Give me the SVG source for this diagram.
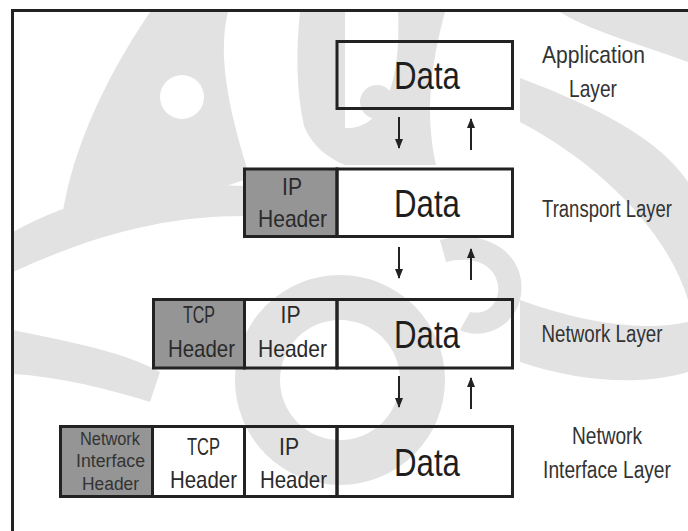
<svg xmlns="http://www.w3.org/2000/svg" width="688" height="531" viewBox="0 0 688 531">
<style>
.box{fill:none;stroke:#222;stroke-width:3}
.hdr{fill:#959595;stroke:#222;stroke-width:3}
.wm{fill:#e2e2e2;stroke:none}
.data{font-family:"Liberation Sans",Arial,sans-serif;font-size:39px;fill:#1e1e1e;text-anchor:middle}
.h{font-family:"Liberation Sans",Arial,sans-serif;font-size:24px;fill:#2a2a2a;text-anchor:middle}
.s{font-family:"Liberation Sans",Arial,sans-serif;font-size:18px;fill:#333;text-anchor:middle}
.lbl{font-family:"Liberation Sans",Arial,sans-serif;font-size:24px;fill:#333;text-anchor:middle}
.arr{stroke:#222;stroke-width:2;fill:none}
</style>
<defs>
<marker id="ah" viewBox="0 0 10 10" refX="9" refY="5" markerWidth="5" markerHeight="5" orient="auto" markerUnits="strokeWidth">
<path d="M0,1 L10,5 L0,9 z" fill="#222"/>
</marker>
</defs>
<rect x="0" y="0" width="688" height="531" fill="#ffffff"/>

<g id="watermark">
<path class="wm" d="M150,12 L228,12 C216,60 232,120 250,178 C200,196 120,212 60,236 C66,160 104,80 150,12 Z"/>
<circle cx="182" cy="97" r="22" fill="#ffffff"/>
<path class="wm" d="M300,12 L345,12 L345,165 C328,158 312,146 304,126 C296,90 296,50 300,12 Z"/>
<path class="wm" d="M398,12 L445,12 C432,60 424,110 436,165 L345,165 L345,128 C372,130 402,104 398,12 Z"/>
<circle class="wm" cx="377" cy="102" r="17"/>
<path class="wm" d="M560,12 L688,12 L688,62 C640,44 592,32 560,12 Z"/>
<path class="wm" d="M520,78 C600,108 660,140 688,182 L688,300 C668,232 600,164 520,122 Z"/>
<path class="wm" d="M13,232 C80,194 160,182 245,186 L245,216 C170,216 100,232 13,272 Z"/>
<path class="wm" d="M440,240 C490,226 530,258 520,300 C512,330 480,340 460,330 L470,312 C490,316 500,300 498,285 C494,262 470,256 446,262 Z"/>
<path class="wm" fill-rule="evenodd" d="M235,380 A105,105 0 0 0 445,380 A105,105 0 0 0 235,380 Z M280,380 A60,60 0 0 0 400,380 A60,60 0 0 0 280,380 Z"/>
<path class="wm" d="M13,330 C60,340 120,350 160,372 L150,402 C100,386 50,376 13,374 Z"/>
<path class="wm" d="M520,300 C580,322 640,332 688,322 L688,372 C640,386 580,382 520,362 Z"/>
</g>
<path d="M12.5,531 V10.5 H688" fill="none" stroke="#222" stroke-width="3"/>

<g id="application">
<rect class="box" x="337" y="41.5" width="175.5" height="67"/>
<text class="data" x="427" y="89" textLength="66" lengthAdjust="spacingAndGlyphs">Data</text>
<text class="lbl" transform="translate(593.5,63) scale(0.82,1)" textLength="125.6" lengthAdjust="spacingAndGlyphs">Application</text>
<text class="lbl" transform="translate(593,97) scale(0.82,1)" textLength="58.5" lengthAdjust="spacingAndGlyphs">Layer</text>
</g>

<g id="transport">
<rect class="hdr" x="244.5" y="169" width="92.5" height="67.5"/>
<rect class="box" x="337" y="169" width="175.5" height="67.5"/>
<text class="h" x="292" y="195" textLength="20" lengthAdjust="spacingAndGlyphs">IP</text>
<text class="h" x="292.5" y="227" textLength="69" lengthAdjust="spacingAndGlyphs">Header</text>
<text class="data" x="427" y="217" textLength="66" lengthAdjust="spacingAndGlyphs">Data</text>
<text class="lbl" transform="translate(607,217) scale(0.77,1)" textLength="168.8" lengthAdjust="spacingAndGlyphs">Transport Layer</text>
</g>

<g id="network">
<rect class="hdr" x="153.5" y="299.5" width="91" height="68.5"/>
<rect class="box" x="244.5" y="299.5" width="92.5" height="68.5"/>
<rect class="box" x="337" y="299.5" width="175.5" height="68.5"/>
<text class="h" x="199" y="323" textLength="32" lengthAdjust="spacingAndGlyphs">TCP</text>
<text class="h" x="201.5" y="357" textLength="67" lengthAdjust="spacingAndGlyphs">Header</text>
<text class="h" x="290.5" y="323" textLength="20" lengthAdjust="spacingAndGlyphs">IP</text>
<text class="h" x="292.5" y="357" textLength="69" lengthAdjust="spacingAndGlyphs">Header</text>
<text class="data" x="427" y="348" textLength="66" lengthAdjust="spacingAndGlyphs">Data</text>
<text class="lbl" transform="translate(602,342) scale(0.77,1)" textLength="157" lengthAdjust="spacingAndGlyphs">Network Layer</text>
</g>

<g id="network-interface">
<rect class="hdr" x="60.5" y="426.5" width="92" height="70"/>
<rect class="box" x="152.5" y="426.5" width="92" height="70"/>
<rect class="box" x="244.5" y="426.5" width="92.5" height="70"/>
<rect class="box" x="337" y="426.5" width="175.5" height="70"/>
<text class="s" x="110" y="445" textLength="60" lengthAdjust="spacingAndGlyphs">Network</text>
<text class="s" x="110.5" y="467" textLength="69" lengthAdjust="spacingAndGlyphs">Interface</text>
<text class="s" x="110.5" y="490" textLength="57" lengthAdjust="spacingAndGlyphs">Header</text>
<text class="h" x="203.5" y="455" textLength="33" lengthAdjust="spacingAndGlyphs">TCP</text>
<text class="h" x="203.5" y="488" textLength="67" lengthAdjust="spacingAndGlyphs">Header</text>
<text class="h" x="289" y="455" textLength="20" lengthAdjust="spacingAndGlyphs">IP</text>
<text class="h" x="293.5" y="488" textLength="67" lengthAdjust="spacingAndGlyphs">Header</text>
<text class="data" x="427" y="476" textLength="66" lengthAdjust="spacingAndGlyphs">Data</text>
<text class="lbl" transform="translate(607,444) scale(0.8,1)" textLength="87.5" lengthAdjust="spacingAndGlyphs">Network</text>
<text class="lbl" transform="translate(607,478) scale(0.77,1)" textLength="166" lengthAdjust="spacingAndGlyphs">Interface Layer</text>
</g>

<g id="connectors">
<line class="arr" x1="399" y1="117" x2="399" y2="148" marker-end="url(#ah)"/>
<line class="arr" x1="471" y1="150" x2="471" y2="119" marker-end="url(#ah)" stroke-width="2.5"/>
<line class="arr" x1="399" y1="247" x2="399" y2="278" marker-end="url(#ah)"/>
<line class="arr" x1="471" y1="280" x2="471" y2="249" marker-end="url(#ah)" stroke-width="2.5"/>
<line class="arr" x1="399" y1="376" x2="399" y2="407" marker-end="url(#ah)"/>
<line class="arr" x1="471" y1="409" x2="471" y2="378" marker-end="url(#ah)"/>
</g>
</svg>
